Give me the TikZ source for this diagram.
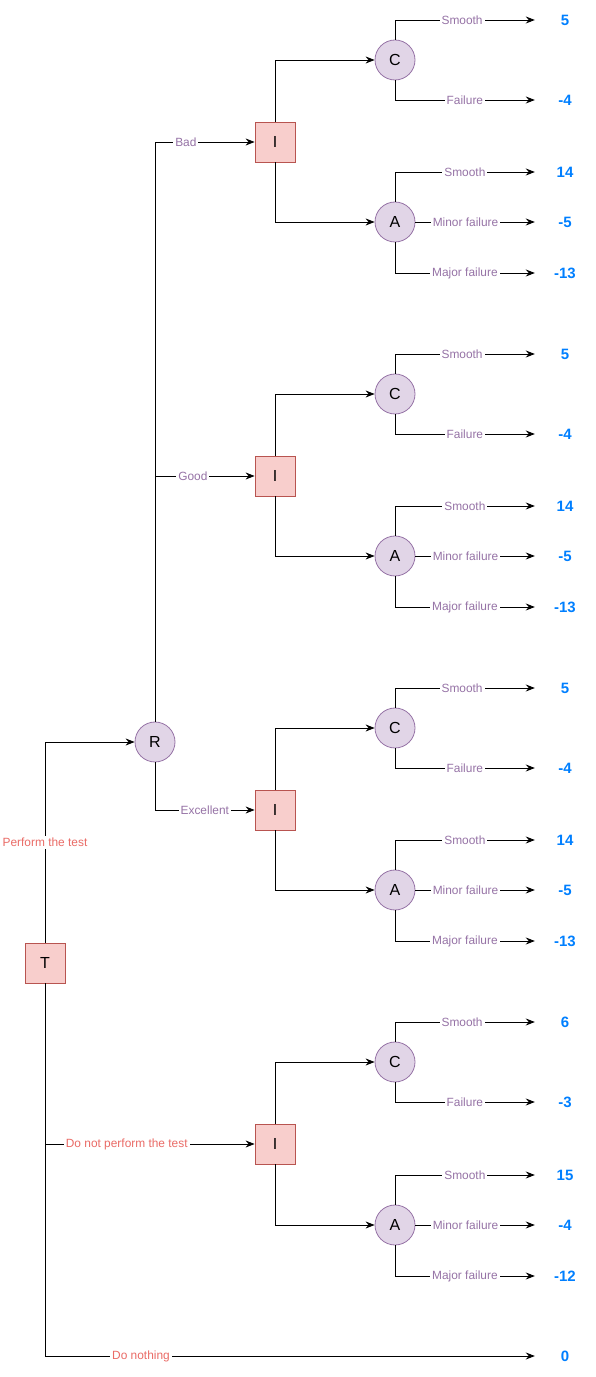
\documentclass[tikz,border=0pt]{standalone}
\usepackage{fontspec}
\setmainfont{Liberation Sans}
\usetikzlibrary{positioning, arrows.meta}
\definecolor{decfill}{HTML}{F8CECC}
\definecolor{decdraw}{HTML}{B85450}
\definecolor{chfill}{HTML}{E1D5E7}
\definecolor{chdraw}{HTML}{9673A6}
\definecolor{testred}{HTML}{EA6B66}
\definecolor{eventpurple}{HTML}{9673A6}
\definecolor{payblue}{HTML}{007FFF}
\tikzstyle{decision} =
[rectangle, minimum width = 40pt, minimum height = 40pt, inner sep = 0pt,
text centered, draw=decdraw, fill=decfill, line width=0.8pt,
font=\fontsize{16}{16}\selectfont]
\tikzstyle{chance} =
[circle, minimum size = 40pt, inner sep = 0pt,
text centered, draw=chdraw, fill=chfill, line width=0.8pt,
font=\fontsize{16}{16}\selectfont]
\tikzstyle{payoff} =
[rectangle, minimum width = 60pt, minimum height = 16pt, inner sep = 0pt,
text centered, text=payblue, font=\bfseries\fontsize{15}{15}\selectfont]
\tikzstyle{testlabel} =
[fill=white, inner sep=2pt, text=testred, font=\fontsize{11.9}{12}\selectfont]
\tikzstyle{eventlabel} =
[fill=white, inner sep=2pt, text=eventpurple, font=\fontsize{11.9}{12}\selectfont]
\tikzstyle{line} = [draw, line width=0.9pt, -{Stealth[length=9pt, width=7pt, inset=3pt]}]

\begin{document}
\begin{tikzpicture}[on grid]
  \useasboundingbox (-45pt,-414pt) rectangle (551pt,963pt);
  % 1st level nodes
  \node [decision] (T) {T};
  \node [chance, above right=221pt and 110pt of T] (R) {R};
  \node [decision, below right=181pt and 230pt of T] (Inot) {I};
  \node [payoff, below right=393pt and 520pt of T] (nothing) {0};
  % 1st level edges
  \path [line] (T) |- node [testlabel, pos=0.25] {Perform the test} (R);
  \path [line] (T) |- node [testlabel, pos=0.695] {Do not perform the test} (Inot);
  \path [line] (T) |- node [testlabel, pos=0.598] {Do nothing} (nothing);
  %
  % 2nd level nodes
  \node [decision, above right=600pt and 120pt of R] (Ibad) {I};
  \node [decision, above right=266pt and 120pt of R] (Igood) {I};
  \node [decision, below right=68pt and 120pt of R] (Iexc) {I};
  % 2nd level edges
  \path [line] (R) |- node [eventlabel, pos=0.655] {Bad} (Ibad);
  \path [line] (R) |- node [eventlabel, pos=0.69] {Good} (Igood);
  \path [line] (R) |- node [eventlabel, pos=0.75] {Excellent} (Iexc); %|
  %
  % 3rd level nodes
  \node [chance, above right=82pt and 120pt of Ibad] (Cbad) {C};
  \node [chance, below right=80pt and 120pt of Ibad] (Abad) {A};
  \node [chance, above right=82pt and 120pt of Igood] (Cgood) {C};
  \node [chance, below right=80pt and 120pt of Igood] (Agood) {A};
  \node [chance, above right=82pt and 120pt of Iexc] (Cexc) {C};
  \node [chance, below right=80pt and 120pt of Iexc] (Aexc) {A};
  \node [chance, above right=82pt and 120pt of Inot] (Cnot) {C};
  \node [chance, below right=81pt and 120pt of Inot] (Anot) {A};
  % 3rd level edges
  \path [line] (Ibad) |- (Cbad);
  \path [line] (Ibad) |- (Abad);
  \path [line] (Igood) |- (Cgood);
  \path [line] (Igood) |- (Agood);
  \path [line] (Iexc) |- (Cexc);
  \path [line] (Iexc) |- (Aexc);
  \path [line] (Inot) |- (Cnot);
  \path [line] (Inot) |- (Anot); %|
  %
  % 4th level nodes (bad)
  \node [payoff, above right=40pt and 170pt of Cbad] (Cbadsm) {5};
  \node [payoff, below right=40pt and 170pt of Cbad] (Cbadfa) {-4};
  \node [payoff, above right=50pt and 170pt of Abad] (Abadsm) {14};
  \node [payoff, right=170pt of Abad] (Abadmi) {-5};
  \node [payoff, below right=51pt and 170pt of Abad] (Abadma) {-13};
  % 4th level nodes (good)
  \node [payoff, above right=40pt and 170pt of Cgood] (Cgoodsm) {5};
  \node [payoff, below right=40pt and 170pt of Cgood] (Cgoodfa) {-4};
  \node [payoff, above right=50pt and 170pt of Agood] (Agoodsm) {14};
  \node [payoff, right=170pt of Agood] (Agoodmi) {-5};
  \node [payoff, below right=51pt and 170pt of Agood] (Agoodma) {-13};
  % 4th level nodes (excellent)
  \node [payoff, above right=40pt and 170pt of Cexc] (Cexcsm) {5};
  \node [payoff, below right=40pt and 170pt of Cexc] (Cexcfa) {-4};
  \node [payoff, above right=50pt and 170pt of Aexc] (Aexcsm) {14};
  \node [payoff, right=170pt of Aexc] (Aexcmi) {-5};
  \node [payoff, below right=51pt and 170pt of Aexc] (Aexcma) {-13};
  % 4th level nodes (no test)
  \node [payoff, above right=40pt and 170pt of Cnot] (Cnotsm) {6};
  \node [payoff, below right=40pt and 170pt of Cnot] (Cnotfa) {-3};
  \node [payoff, above right=50pt and 170pt of Anot] (Anotsm) {15};
  \node [payoff, right=170pt of Anot] (Anotmi) {-4};
  \node [payoff, below right=51pt and 170pt of Anot] (Anotma) {-12};
  % 4th level edges
  \path [line] (Cbad) |- node [eventlabel, pos=0.74] {Smooth} (Cbadsm);
  \path [line] (Cbad) |- node [eventlabel, pos=0.75] {Failure} (Cbadfa);
  \path [line] (Abad) |- node [eventlabel, pos=0.75] {Smooth} (Abadsm);
  \path [line] (Abad) -- node [eventlabel, pos=0.42] {Minor failure} (Abadmi);
  \path [line] (Abad) |- node [eventlabel, pos=0.75] {Major failure} (Abadma);
  \path [line] (Cgood) |- node [eventlabel, pos=0.74] {Smooth} (Cgoodsm);
  \path [line] (Cgood) |- node [eventlabel, pos=0.75] {Failure} (Cgoodfa);
  \path [line] (Agood) |- node [eventlabel, pos=0.75] {Smooth} (Agoodsm);
  \path [line] (Agood) -- node [eventlabel, pos=0.42] {Minor failure} (Agoodmi);
  \path [line] (Agood) |- node [eventlabel, pos=0.75] {Major failure} (Agoodma);
  \path [line] (Cexc) |- node [eventlabel, pos=0.74] {Smooth} (Cexcsm);
  \path [line] (Cexc) |- node [eventlabel, pos=0.75] {Failure} (Cexcfa);
  \path [line] (Aexc) |- node [eventlabel, pos=0.75] {Smooth} (Aexcsm);
  \path [line] (Aexc) -- node [eventlabel, pos=0.42] {Minor failure} (Aexcmi);
  \path [line] (Aexc) |- node [eventlabel, pos=0.75] {Major failure} (Aexcma);
  \path [line] (Cnot) |- node [eventlabel, pos=0.74] {Smooth} (Cnotsm);
  \path [line] (Cnot) |- node [eventlabel, pos=0.75] {Failure} (Cnotfa);
  \path [line] (Anot) |- node [eventlabel, pos=0.75] {Smooth} (Anotsm);
  \path [line] (Anot) -- node [eventlabel, pos=0.42] {Minor failure} (Anotmi);
  \path [line] (Anot) |- node [eventlabel, pos=0.75] {Major failure} (Anotma); %|
\end{tikzpicture}
\end{document}
